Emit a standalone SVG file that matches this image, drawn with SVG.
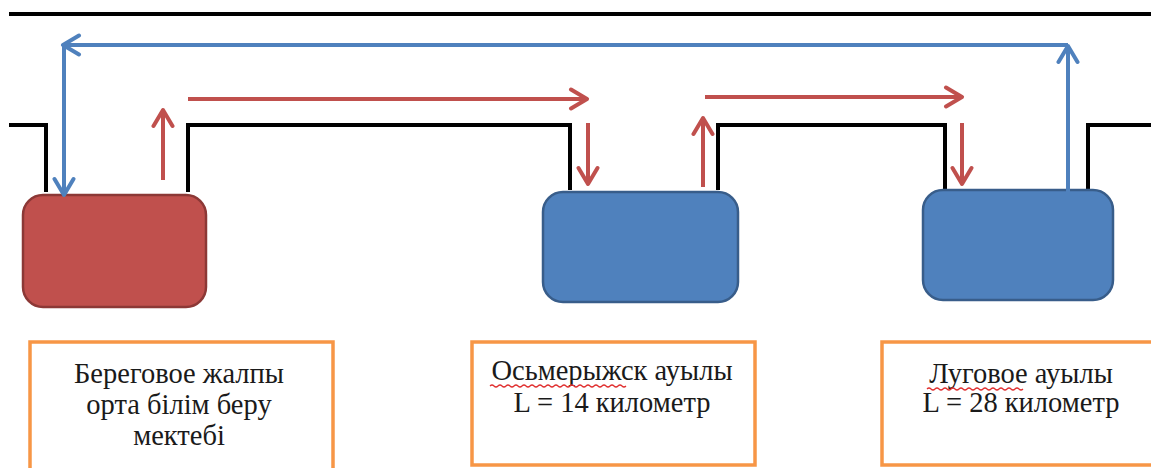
<svg xmlns="http://www.w3.org/2000/svg" width="1151" height="468" viewBox="0 0 1151 468">
<style>
.road{fill:none;stroke:#000;stroke-width:4;stroke-linejoin:miter}
.red{fill:none;stroke:#C0504D;stroke-width:4}
.blue{fill:none;stroke:#4F81BD;stroke-width:4}
.lbl{fill:#fff;stroke:#F79646;stroke-width:3.5}
.t{font-family:"Liberation Serif","Times New Roman",serif;font-size:28.5px;fill:#1a1a1a;text-anchor:middle}
.squig{fill:none;stroke:#E03030;stroke-width:1.2}
</style>
<defs>
<marker id="ar" viewBox="0 0 22 24" refX="19" refY="12" markerWidth="22" markerHeight="24" markerUnits="userSpaceOnUse" orient="auto">
<path d="M3,2.5 L19,12 L3,21.5" fill="none" stroke="#C0504D" stroke-width="4" stroke-linecap="round" stroke-linejoin="round"/>
</marker>
<marker id="ab" viewBox="0 0 22 24" refX="19" refY="12" markerWidth="22" markerHeight="24" markerUnits="userSpaceOnUse" orient="auto">
<path d="M3,2.5 L19,12 L3,21.5" fill="none" stroke="#4F81BD" stroke-width="4" stroke-linecap="round" stroke-linejoin="round"/>
</marker>
</defs>
<rect width="1151" height="468" fill="#fff"/>
<g id="road">
<line class="road" x1="9" y1="14" x2="1151" y2="14"/>
<path class="road" d="M9,125 H46 V192"/>
<path class="road" d="M188,192 V125 H570 V190"/>
<path class="road" d="M718,190 V125 H945 V190"/>
<path class="road" d="M1088,190 V125 H1151"/>
</g>
<g id="school">
<rect x="23" y="195" width="183" height="112" rx="20" fill="#C0504D" stroke="#8C3836" stroke-width="2.5"/>
</g>
<g id="village1">
<rect x="543" y="192" width="195" height="110" rx="20" fill="#4F81BD" stroke="#385D8A" stroke-width="2.5"/>
</g>
<g id="village2">
<rect x="923" y="190" width="190" height="110" rx="20" fill="#4F81BD" stroke="#385D8A" stroke-width="2.5"/>
</g>
<g id="connectors">
<line class="blue" x1="1068" y1="195" x2="1068" y2="46" marker-end="url(#ab)"/>
<line class="blue" x1="1068" y1="45" x2="63" y2="45" marker-end="url(#ab)"/>
<line class="blue" x1="64" y1="45" x2="64" y2="195" marker-end="url(#ab)"/>
<line class="red" x1="163" y1="180" x2="163" y2="110" marker-end="url(#ar)"/>
<line class="red" x1="188" y1="99" x2="587" y2="99" marker-end="url(#ar)"/>
<line class="red" x1="588" y1="123" x2="588" y2="184" marker-end="url(#ar)"/>
<line class="red" x1="703" y1="187" x2="703" y2="118" marker-end="url(#ar)"/>
<line class="red" x1="705" y1="97" x2="962" y2="97" marker-end="url(#ar)"/>
<line class="red" x1="962" y1="123" x2="962" y2="184" marker-end="url(#ar)"/>
</g>
<g id="label-school">
<rect class="lbl" x="30" y="342" width="303" height="135"/>
<text class="t" x="179" y="383">Береговое жалпы</text>
<text class="t" x="179" y="414">орта білім беру</text>
<text class="t" x="179" y="445">мектебі</text>
</g>
<g id="label-village1">
<rect class="lbl" x="472" y="342" width="283" height="123"/>
<text class="t" x="612" y="380">Осьмерыжск ауылы</text>
<text class="t" x="612" y="412">L = 14 километр</text>
<path class="squig" d="M490,386 q2,-2 4,0 t4,0 t4,0 t4,0 t4,0 t4,0 t4,0 t4,0 t4,0 t4,0 t4,0 t4,0 t4,0 t4,0 t4,0 t4,0 t4,0 t4,0 t4,0 t4,0 t4,0 t4,0 t4,0 t4,0 t4,0 t4,0 t4,0 t4,0 t4,0 t4,0 t4,0 t4,0 t4,0 t4,0"/>
</g>
<g id="label-village2">
<rect class="lbl" x="882" y="342" width="280" height="123"/>
<text class="t" x="1021" y="383">Луговое ауылы</text>
<text class="t" x="1021" y="412">L = 28 километр</text>
<path class="squig" d="M927,389 q2,-2 4,0 t4,0 t4,0 t4,0 t4,0 t4,0 t4,0 t4,0 t4,0 t4,0 t4,0 t4,0 t4,0 t4,0 t4,0 t4,0 t4,0 t4,0 t4,0 t4,0 t4,0 t4,0 t4,0 t4,0"/>
</g>
</svg>
